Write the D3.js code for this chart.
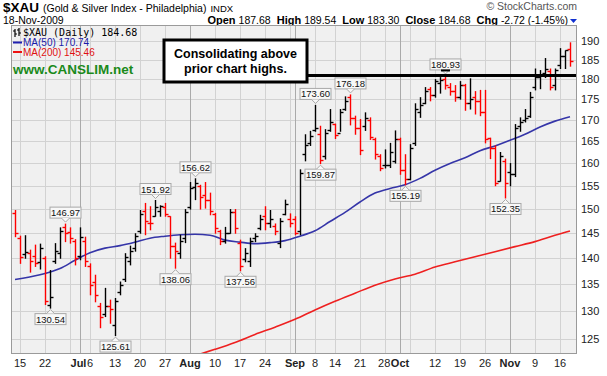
<!DOCTYPE html>
<html><head><meta charset="utf-8">
<script src="https://cdn.jsdelivr.net/npm/d3@7"></script>
<style>
body{margin:0;background:#fff;}
svg{display:block;font-family:"Liberation Sans",Arial,sans-serif;}
</style>
</head><body>
<svg id="chart" width="607" height="376"></svg>
<script>
// ---------------- DATA ----------------
const dates = [
"2009-06-12","2009-06-15","2009-06-16","2009-06-17","2009-06-18","2009-06-19","2009-06-22","2009-06-23","2009-06-24","2009-06-25","2009-06-26","2009-06-29","2009-06-30",
"2009-07-01","2009-07-02","2009-07-06","2009-07-07","2009-07-08","2009-07-09","2009-07-10","2009-07-13","2009-07-14","2009-07-15","2009-07-16","2009-07-17",
"2009-07-20","2009-07-21","2009-07-22","2009-07-23","2009-07-24","2009-07-27","2009-07-28","2009-07-29","2009-07-30","2009-07-31",
"2009-08-03","2009-08-04","2009-08-05","2009-08-06","2009-08-07","2009-08-10","2009-08-11","2009-08-12","2009-08-13","2009-08-14",
"2009-08-17","2009-08-18","2009-08-19","2009-08-20","2009-08-21","2009-08-24","2009-08-25","2009-08-26","2009-08-27","2009-08-28","2009-08-31",
"2009-09-01","2009-09-02","2009-09-03","2009-09-04","2009-09-08","2009-09-09","2009-09-10","2009-09-11","2009-09-14","2009-09-15","2009-09-16","2009-09-17","2009-09-18",
"2009-09-21","2009-09-22","2009-09-23","2009-09-24","2009-09-25","2009-09-28","2009-09-29","2009-09-30",
"2009-10-01","2009-10-02","2009-10-05","2009-10-06","2009-10-07","2009-10-08","2009-10-09","2009-10-12","2009-10-13","2009-10-14","2009-10-15","2009-10-16",
"2009-10-19","2009-10-20","2009-10-21","2009-10-22","2009-10-23","2009-10-26","2009-10-27","2009-10-28","2009-10-29","2009-10-30",
"2009-11-02","2009-11-03","2009-11-04","2009-11-05","2009-11-06","2009-11-09","2009-11-10","2009-11-11","2009-11-12","2009-11-13","2009-11-16","2009-11-17","2009-11-18"];

const open  = [149.1,144.0,140.8,141.0,140.5,139.2,140.0,131.2,139.5,141.0,146.3,145.2,143.5,
140.5,143.5,138.5,135.5,131.0,129.5,131.0,127.5,133.5,136.0,139.5,142.0,
145.5,149.5,147.0,148.5,149.5,150.5,148.5,142.5,141.0,144.0,
150.5,154.8,155.0,153.0,152.0,149.0,145.5,143.5,145.0,149.3,
143.0,139.8,139.5,144.0,146.0,148.5,147.0,146.5,143.0,149.0,148.0,
148.0,145.5,162.0,164.5,167.5,166.6,161.5,167.5,169.0,167.0,172.5,175.5,170.5,
168.0,168.5,170.0,165.5,161.5,159.5,159.5,160.5,
165.5,158.5,156.5,164.5,172.0,174.0,177.5,176.0,179.0,180.0,178.0,177.0,
175.5,178.5,174.0,175.5,174.5,172.0,165.8,163.5,156.0,160.5,
158.0,157.5,168.5,170.0,171.0,178.0,180.5,181.5,182.0,178.5,183.5,186.0,187.68];
const high  = [149.8,144.5,144.6,141.7,142.7,142.9,140.4,137.7,143.0,146.2,146.97,146.2,143.8,
146.2,144.3,139.0,136.8,131.5,134.3,132.1,132.4,135.5,141.0,142.5,145.0,
149.8,151.3,150.6,151.92,150.8,151.3,148.5,143.1,144.7,150.0,
155.8,156.62,155.2,155.8,153.5,149.2,145.7,146.3,150.0,150.0,
143.7,142.0,144.1,145.0,148.8,150.6,149.8,147.0,148.1,152.0,149.1,
148.5,158.6,166.6,167.4,173.6,168.6,167.8,172.6,169.1,172.6,175.7,176.18,171.0,
170.2,171.8,170.6,165.8,162.0,163.1,164.6,167.5,
165.8,162.0,164.3,174.0,175.5,178.0,178.0,180.0,180.5,180.93,179.0,178.5,
179.5,178.8,180.2,177.0,177.3,177.3,165.8,164.0,162.5,161.0,
160.0,169.0,170.6,172.6,176.8,182.7,182.3,185.4,182.7,182.7,188.0,187.4,189.54];
const low   = [144.3,139.0,140.0,137.3,138.4,137.9,131.2,130.54,139.0,140.0,143.3,143.0,138.7,
139.7,138.4,133.0,131.7,127.0,129.0,127.8,125.61,133.0,135.5,138.7,141.4,
145.0,144.7,145.7,148.5,148.5,148.5,140.0,138.06,140.0,143.1,
150.0,152.0,150.0,150.2,148.8,145.0,142.7,143.0,145.0,145.0,
137.56,139.3,138.4,143.3,145.7,145.7,146.2,144.7,142.1,148.8,146.3,
144.7,144.7,160.5,164.0,167.3,159.87,160.9,167.3,165.6,167.3,172.3,168.8,166.6,
161.9,167.5,165.4,160.9,158.3,158.9,159.0,160.0,
157.5,155.19,156.3,164.0,170.6,173.9,174.6,175.5,176.5,177.5,176.0,174.5,
175.0,172.3,172.6,171.4,171.0,164.6,161.0,155.0,156.0,152.35,
155.0,157.0,167.3,169.5,170.6,177.3,177.6,180.4,177.3,177.3,182.7,182.7,183.30];
const close = [145.0,140.3,141.2,139.5,139.0,142.0,131.8,132.5,141.5,145.5,145.0,144.0,140.0,
144.3,139.5,134.9,133.0,129.0,131.0,130.3,131.8,134.8,140.3,141.5,144.5,
149.0,147.5,147.0,150.5,150.6,149.0,142.5,141.5,143.5,149.3,
154.5,155.5,152.5,152.0,149.5,146.0,143.5,145.0,149.3,146.0,
138.5,141.0,143.5,144.5,148.0,147.0,148.0,145.5,147.5,151.0,147.0,
145.0,157.8,164.0,166.2,168.0,160.8,167.0,169.5,166.5,172.0,174.5,170.5,168.0,
163.0,170.5,166.0,162.0,159.0,159.5,162.5,165.5,
158.5,156.5,163.5,172.5,173.5,177.0,176.0,179.5,179.8,178.5,177.0,175.5,
178.5,174.0,175.0,174.5,172.0,165.5,163.5,155.5,161.5,155.5,
157.5,168.0,169.5,170.5,175.5,180.5,181.0,182.5,178.0,182.3,186.0,187.40,184.68];

// moving averages (bar index, value)
const ma50Idx = [0,5,9,12,15,18,21,24,27,30,33,36,39,42,45,48,51,54,57,60,63,66,69,72,75,78,81,84,87,90,93,96,99,102,105,108,111];
const ma50Val = [135.9,136.8,138.0,139.6,141.1,142.0,142.5,143.2,144.0,144.4,144.7,144.8,144.6,143.6,143.2,142.9,143.1,143.5,144.4,145.5,147.4,149.3,151.5,153.4,154.4,155.2,156.6,158.4,159.9,161.2,162.8,163.9,165.2,166.6,168.3,169.7,170.74];
const ma200Idx = [36,40,44,48,52,56,60,64,68,72,76,80,84,88,92,96,100,104,108,111];
const ma200Val = [122.1,123.2,124.4,125.8,127.1,128.5,130.2,131.8,133.3,134.8,136.0,136.9,138.3,139.3,140.3,141.3,142.3,143.3,144.6,145.46];

// axes
const yTicks = [125,130,135,140,145,150,155,160,165,170,175,180,185,190];
const xTickIdx    = [1,6,13,15,20,25,30,35,40,45,50,56,60,64,69,74,77,84,89,94,99,104,109];
const xTickLabels = ["15","22","Jul","6","13","20","27","Aug","10","17","24","Sep","8","14","21","28","Oct","12","19","26","Nov","9","16"];
const weekIdx  = [1,6,11,15,20,25,30,35,40,45,50,55,60,64,69,74,79,84,89,94,99,104,109];
const monthIdx = [13,35,56,77,99];

// price annotations
const annIdx  = [10,7,20,28,32,36,45,60,61,67,78,86,98];
const annType = ["h","l","l","h","l","h","l","h","l","h","l","h","l"];
const annText = ["146.97","130.54","125.61","151.92","138.06","156.62","137.56","173.60","159.87","176.18","155.19","180.93","152.35"];

const resistance = 180.93;

// ---------------- DRAW ----------------
const svg = d3.select("#chart");
const L = 11, R = 577, T = 25, B = 354;
const x = d3.scaleLinear().domain([-0.8, 112.4]).range([L, R]);
const y = d3.scaleLog().domain([122.4, 194.2]).range([B, T]);

// header
const hdr = svg.append("g");
const tSym = hdr.append("text").attr("x", 3).attr("y", 11.9).attr("font-weight","bold").attr("font-size","13.5px").text("$XAU");
const sx = 3 + tSym.node().getComputedTextLength() + 4;
const tSub = hdr.append("text").attr("x", sx).attr("y", 11.9).attr("font-size","10.5px").text("(Gold & Silver Index - Philadelphia)");
hdr.append("text").attr("x", sx + tSub.node().getComputedTextLength() + 4).attr("y", 11.9).attr("font-size","9.5px").text("INDX");
hdr.append("text").attr("x",577).attr("y",9.5).attr("text-anchor","end").attr("font-size","10.5px").attr("fill","#555").text("\u00A9 StockCharts.com");
hdr.append("text").attr("x",3).attr("y",24.2).attr("font-size","10.5px").text("18-Nov-2009");
const t2 = hdr.append("text").attr("x",568).attr("y",24.2).attr("text-anchor","end").attr("font-size","10.5px");
[["Open","187.68"],["High","189.54"],["Low","183.30"],["Close","184.68"],["Chg","-2.72 (-1.45%)"]].forEach((p,k)=>{
  t2.append("tspan").attr("font-weight","bold").attr("font-size","11px").attr("dx", k?6:0).text(p[0]);
  t2.append("tspan").attr("dx",3).text(p[1]);
});
hdr.append("path").attr("d","M570,19 L577,19 L573.5,23 Z").attr("fill","#1030d0");

// plot background
svg.append("rect").attr("x",L).attr("y",T).attr("width",R-L).attr("height",B-T).attr("fill","#f0f0f0");

// grid
const grid = svg.append("g");
yTicks.forEach(v=>{
  grid.append("line").attr("x1",L).attr("x2",R).attr("y1",Math.round(y(v))+0.5).attr("y2",Math.round(y(v))+0.5).attr("stroke","#d2d2d2");
});
weekIdx.forEach(i=>{
  grid.append("line").attr("x1",Math.round(x(i))+0.5).attr("x2",Math.round(x(i))+0.5).attr("y1",T).attr("y2",B).attr("stroke","#d2d2d2");
});
monthIdx.forEach(i=>{
  grid.append("line").attr("x1",Math.round(x(i))+0.5).attr("x2",Math.round(x(i))+0.5).attr("y1",T).attr("y2",B).attr("stroke","#aaaaaa");
});

// clip
svg.append("clipPath").attr("id","clip").append("rect").attr("x",L).attr("y",T).attr("width",R-L).attr("height",B-T);
const plot = svg.append("g").attr("clip-path","url(#clip)");

// MA lines
const maLine = d3.line().x(d=>x(d[0])).y(d=>y(d[1])).curve(d3.curveMonotoneX);
plot.append("path").datum(ma200Idx.map((d,k)=>[d,ma200Val[k]])).attr("d",maLine).attr("fill","none").attr("stroke","#ee2020").attr("stroke-width",1.6);
plot.append("path").datum(ma50Idx.map((d,k)=>[d,ma50Val[k]])).attr("d",maLine).attr("fill","none").attr("stroke","#3535a8").attr("stroke-width",1.6);

// OHLC bars
const bars = plot.append("g");
dates.forEach((d,i)=>{
  const down = i===0 ? close[i] < open[i] : close[i] < close[i-1];
  const col = down ? "#ff0000" : "#000000";
  const cx = Math.round(x(i)) + 0.5;
  const g = bars.append("g").attr("stroke",col).attr("stroke-width",1.4);
  g.append("line").attr("x1",cx).attr("x2",cx).attr("y1",y(high[i])).attr("y2",y(low[i])+0.5);
  g.append("line").attr("x1",cx-3).attr("x2",cx).attr("y1",Math.round(y(open[i]))+0.5).attr("y2",Math.round(y(open[i]))+0.5);
  g.append("line").attr("x1",cx).attr("x2",cx+3).attr("y1",Math.round(y(close[i]))+0.5).attr("y2",Math.round(y(close[i]))+0.5);
});

// annotation labels
const ann = svg.append("g");
annIdx.forEach((i,k)=>{
  const cx = Math.round(x(i)) + 0.5;
  const bw = 31, bh = 11;
  let by, tip, base;
  if(annType[k]==="h"){ tip = y(high[i]) - 1.5; base = tip - 4; by = base - bh; }
  else { tip = y(low[i]) + 1.5; base = tip + 4; by = base; }
  ann.append("rect").attr("x",cx-bw/2).attr("y",by).attr("width",bw).attr("height",bh).attr("fill","#f8f8f8").attr("stroke","#a8a8a8");
  ann.append("path").attr("d",`M${cx-4},${base} L${cx},${tip} L${cx+4},${base}`).attr("fill","#f8f8f8").attr("stroke","#a8a8a8");
  ann.append("text").attr("x",cx).attr("y",by+bh-2).attr("text-anchor","middle").attr("font-size","9.5px").attr("fill","#111").text(annText[k]);
});
// high marker
svg.append("rect").attr("x",x(86)-4).attr("y",y(180.93)-6).attr("width",9).attr("height",2).attr("fill","#000");

// resistance line
svg.append("line").attr("x1",308).attr("x2",R).attr("y1",y(resistance)).attr("y2",y(resistance)).attr("stroke","#000").attr("stroke-width",3);

// plot border
svg.append("rect").attr("x",L+0.5).attr("y",T+0.5).attr("width",R-L-1).attr("height",B-T-1).attr("fill","none").attr("stroke","#9a9a9a");

// y axis labels
yTicks.forEach(v=>{
  svg.append("text").attr("x",581).attr("y",y(v)+4).attr("font-size","11px").attr("fill","#222").text(v);
});
// x axis labels (shift left when a label would run into the next one)
const xl = xTickIdx.map((i,k)=>{
  const isM = isNaN(+xTickLabels[k]);
  return svg.append("text").attr("x",x(i)).attr("y",367).attr("text-anchor","middle")
    .attr("font-size","11px").attr("font-weight",isM?"bold":"normal").attr("fill","#222").text(xTickLabels[k]);
});
for(let k=xl.length-2;k>=0;k--){
  const a = xl[k].node().getBBox(), b = xl[k+1].node().getBBox();
  const over = a.x + a.width - b.x + 0.5;
  if(over>0) xl[k].attr("x", +xl[k].attr("x") - over);
}

// legend
const lg = svg.append("g");
lg.append("path").attr("d","M15,29 L15,37 M13,31 L15,31 M15,34 L17,34 M19,28 L19,36 M17,30 L19,30 M19,33 L21,33").attr("stroke","#000").attr("stroke-width",1.2).attr("fill","none");
lg.append("text").attr("x",23).attr("y",36).attr("font-family","'DejaVu Sans Mono',monospace").attr("font-size","10px").text("$XAU (Daily) 184.68");
lg.append("line").attr("x1",13).attr("x2",22).attr("y1",42.5).attr("y2",42.5).attr("stroke","#2020b0").attr("stroke-width",2);
lg.append("text").attr("x",23).attr("y",46).attr("font-size","10px").attr("fill","#1a1aa8").text("MA(50) 170.74");
lg.append("line").attr("x1",13).attr("x2",22).attr("y1",52).attr("y2",52).attr("stroke","#ee1111").attr("stroke-width",2);
lg.append("text").attr("x",23).attr("y",55.5).attr("font-size","10px").attr("fill","#e01010").text("MA(200) 145.46");
lg.append("text").attr("x",13).attr("y",74).attr("font-size","13.5px").attr("font-weight","bold").attr("fill","#1a8a1a").text("www.CANSLIM.net");

// comment box
const bx = svg.append("g");
bx.append("rect").attr("x",164).attr("y",40).attr("width",143).attr("height",42).attr("fill","#fff").attr("stroke","#000").attr("stroke-width",3);
const bt = bx.append("text").attr("text-anchor","middle").attr("font-size","12.5px").attr("font-weight","bold");
bt.append("tspan").attr("x",235.5).attr("y",58).text("Consolidating above");
bt.append("tspan").attr("x",235.5).attr("y",72.5).text("prior chart highs.");
</script>
</body></html>
